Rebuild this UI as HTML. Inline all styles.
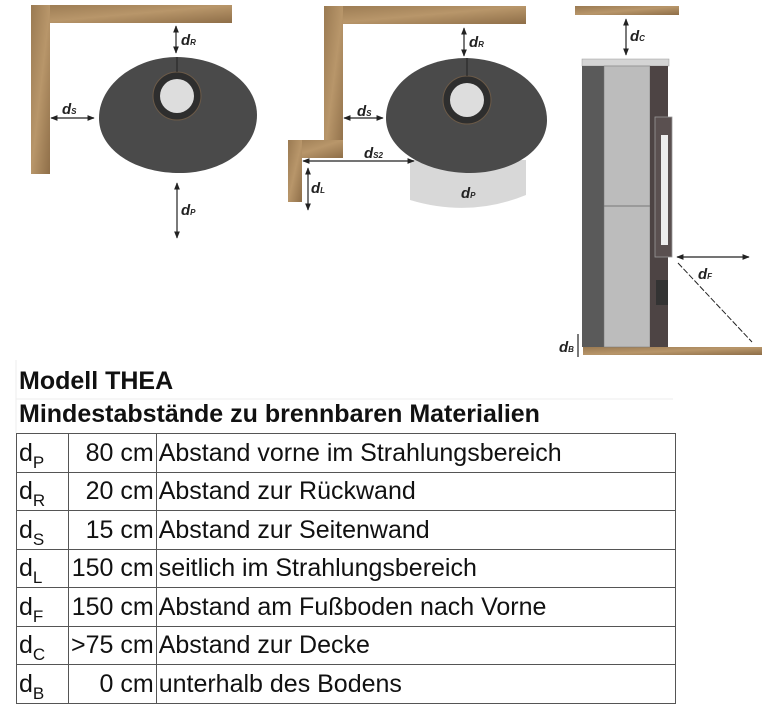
<!DOCTYPE html>
<html><head><meta charset="utf-8"><style>
body{margin:0;width:768px;height:724px;background:#fff;position:relative;overflow:hidden;font-family:"Liberation Sans",Arial,sans-serif}
svg{position:absolute;left:0;top:0}
.t{position:absolute;left:19px;font-weight:bold;font-size:25px;line-height:28px;color:#111}
table{position:absolute;left:16px;top:433px;border-collapse:collapse;font-size:25px;color:#111;table-layout:fixed}
td{border:1.5px solid #555;height:38.5px;padding:0 2px;white-space:nowrap;line-height:30px;box-sizing:border-box;overflow:hidden}
td.a{width:52px}td.b{width:86px;text-align:right}td.c{width:519px;padding-left:2px}
sub{font-size:17px;line-height:0;vertical-align:-7px}
</style></head><body>
<svg width="768" height="724" viewBox="0 0 768 724">
<defs>
<marker id="m" viewBox="0 0 10 10" refX="9" refY="5" markerWidth="6" markerHeight="6" orient="auto-start-reverse"><path d="M0,1 L10,5 L0,9 z" fill="#222"/></marker>
<linearGradient id="w" x1="0" y1="0" x2="1" y2="1"><stop offset="0" stop-color="#9a7a52"/><stop offset=".5" stop-color="#b8966a"/><stop offset="1" stop-color="#8e6e48"/></linearGradient>
</defs>
<g fill="url(#w)">
<rect x="31" y="5" width="201" height="18"/><rect x="31" y="5" width="19" height="169"/>
<rect x="324" y="6" width="202" height="18"/><rect x="324" y="6" width="19" height="152"/>
<rect x="288" y="140" width="55" height="18"/><rect x="288" y="140" width="14" height="62"/>
<rect x="575" y="6" width="104" height="9"/><rect x="583" y="347" width="179" height="8"/>
</g>
<path d="M177,57 C225,58 257,85 257,115 C257,150 220,173 180,173 C135,173 99,150 99,118 C99,85 135,57 177,57 Z" fill="#4a4a4a"/>
<circle cx="177" cy="96" r="24" fill="#2e2e2e" stroke="#6b5a48"/><circle cx="177" cy="96" r="17" fill="#ddd"/>
<line x1="177" y1="57" x2="177" y2="72" stroke="#222"/>
<path d="M410,160 L526,160 L526,195 Q470,218 410,200 Z" fill="#d8d8d8"/>
<path d="M467,58 C515,60 547,88 547,120 C547,152 510,173 470,173 C425,173 386,150 386,118 C386,85 420,58 467,58 Z" fill="#4a4a4a"/>
<circle cx="467" cy="100" r="24" fill="#2e2e2e" stroke="#6b5a48"/><circle cx="467" cy="100" r="17" fill="#ddd"/>
<line x1="467" y1="58" x2="467" y2="76" stroke="#222"/>
<rect x="582" y="59" width="87" height="7" fill="#d4d4d4" stroke="#999" stroke-width=".5"/>
<rect x="582" y="66" width="22" height="281" fill="#5a5a5a"/>
<rect x="604" y="66" width="46" height="281" fill="#bcbcbc" stroke="#777" stroke-width=".5"/>
<line x1="604" y1="206" x2="650" y2="206" stroke="#777"/>
<rect x="650" y="66" width="18" height="281" fill="#4d4444"/>
<rect x="655" y="117" width="17" height="140" fill="#5a5050" stroke="#999" stroke-width=".8"/>
<rect x="661" y="135" width="7" height="110" fill="#eee"/>
<rect x="656" y="280" width="12" height="25" fill="#333"/>
<g stroke="#222" stroke-width="1.2" fill="none">
<line x1="176" y1="26" x2="176" y2="53" marker-start="url(#m)" marker-end="url(#m)"/>
<line x1="51" y1="118" x2="94" y2="118" marker-start="url(#m)" marker-end="url(#m)"/>
<line x1="177" y1="183" x2="177" y2="238" marker-start="url(#m)" marker-end="url(#m)"/>
<line x1="464" y1="28" x2="464" y2="56" marker-start="url(#m)" marker-end="url(#m)"/>
<line x1="344" y1="118" x2="383" y2="118" marker-start="url(#m)" marker-end="url(#m)"/>
<line x1="303" y1="161" x2="414" y2="161" marker-start="url(#m)" marker-end="url(#m)"/>
<line x1="308" y1="168" x2="308" y2="210" marker-start="url(#m)" marker-end="url(#m)"/>
<line x1="626" y1="19" x2="626" y2="55" marker-start="url(#m)" marker-end="url(#m)"/>
<line x1="677" y1="257" x2="749" y2="257" marker-start="url(#m)" marker-end="url(#m)"/>
<line x1="578" y1="334" x2="578" y2="357"/>
<line x1="678" y1="263" x2="752" y2="342" stroke-dasharray="6,2" stroke-width="1"/>
</g>
<g font-style="italic" font-weight="bold" fill="#222" font-size="15">
<text x="181" y="45">d<tspan font-size="8">R</tspan></text>
<text x="62" y="114">d<tspan font-size="8">S</tspan></text>
<text x="181" y="215">d<tspan font-size="8">P</tspan></text>
<text x="469" y="47">d<tspan font-size="8">R</tspan></text>
<text x="357" y="116">d<tspan font-size="8">S</tspan></text>
<text x="364" y="158">d<tspan font-size="8">S2</tspan></text>
<text x="311" y="193">d<tspan font-size="8">L</tspan></text>
<text x="461" y="198">d<tspan font-size="8">P</tspan></text>
<text x="630" y="41">d<tspan font-size="8">C</tspan></text>
<text x="698" y="279">d<tspan font-size="8">F</tspan></text>
<text x="559" y="352">d<tspan font-size="8">B</tspan></text>
</g>
<line x1="16" y1="360" x2="16" y2="433" stroke="#eee"/>
<line x1="16" y1="399" x2="673" y2="399" stroke="#eee"/>
</svg>
<div class="t" style="top:367px">Modell THEA</div>
<div class="t" style="top:400px">Mindestabstände zu brennbaren Materialien</div>
<table>
<tr><td class="a">d<sub>P</sub></td><td class="b">80 cm</td><td class="c">Abstand vorne im Strahlungsbereich</td></tr>
<tr><td class="a">d<sub>R</sub></td><td class="b">20 cm</td><td class="c">Abstand zur Rückwand</td></tr>
<tr><td class="a">d<sub>S</sub></td><td class="b">15 cm</td><td class="c">Abstand zur Seitenwand</td></tr>
<tr><td class="a">d<sub>L</sub></td><td class="b">150 cm</td><td class="c">seitlich im Strahlungsbereich</td></tr>
<tr><td class="a">d<sub>F</sub></td><td class="b">150 cm</td><td class="c">Abstand am Fußboden nach Vorne</td></tr>
<tr><td class="a">d<sub>C</sub></td><td class="b">&gt;75 cm</td><td class="c">Abstand zur Decke</td></tr>
<tr><td class="a">d<sub>B</sub></td><td class="b">0 cm</td><td class="c">unterhalb des Bodens</td></tr>
</table>
</body></html>
